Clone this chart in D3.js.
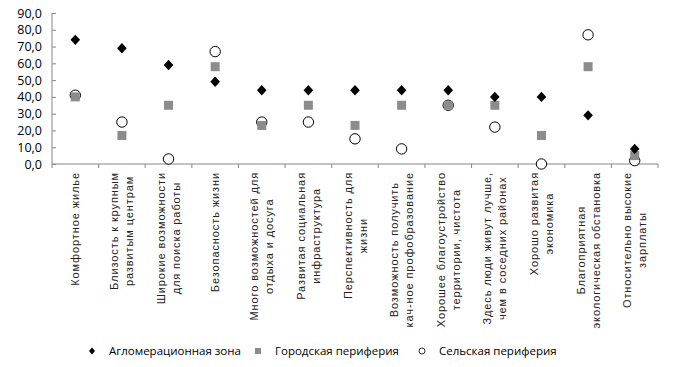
<!DOCTYPE html>
<html><head><meta charset="utf-8">
<script src="https://cdn.jsdelivr.net/npm/d3@7"></script>
<style>body{margin:0;background:#fff}svg{display:block}</style>
</head><body>
<svg id="c" width="675" height="367"></svg>
<script>
const categories = [
  ["Комфортное жилье"],
  ["Близость к крупным", "развитым центрам"],
  ["Широкие возможности", "для поиска работы"],
  ["Безопасность жизни"],
  ["Много возможностей для", "отдыха и досуга"],
  ["Развитая социальная", "инфраструктура"],
  ["Перспективность для", "жизни"],
  ["Возможность получить", "кач-ное профобразование"],
  ["Хорошее благоустройство", "территории, чистота"],
  ["Здесь люди живут лучше,", "чем в соседних районах"],
  ["Хорошо развитая", "экономика"],
  ["Благоприятная", "экологическая обстановка"],
  ["Относительно высокие", "зарплаты"]
];
const seriesNames = ["Агломерационная зона", "Городская периферия", "Сельская периферия"];
const agglo  = [74, 69, 59, 49, 44, 44, 44, 44, 44, 40, 40, 29, 9];
const urban  = [40, 17, 35, 58, 23, 35, 23, 35, 35, 35, 17, 58, 5];
const rural  = [41, 25, 3, 67, 25, 25, 15, 9, 35, 22, 0, 77, 2];
const yTicks = [0, 10, 20, 30, 40, 50, 60, 70, 80, 90];

const svg = d3.select("#c");
const L = 52, R = 658, T = 13, B = 164;
const x = d3.scaleBand().domain(d3.range(categories.length)).range([L, R]);
const y = d3.scaleLinear().domain([0, 90]).range([B, T]);
const fmt = v => d3.format(".1f")(v).replace(".", ",");
const axisColor = "#868686";
const diamond = (w, h) => `M0,${-h}L${w},0L0,${h}L${-w},0Z`;

// Y axis
const ya = svg.append("g").attr("transform", `translate(${L},0)`)
  .call(d3.axisLeft(y).tickValues(yTicks).tickSize(-4).tickPadding(10).tickFormat(fmt));
ya.select(".domain").attr("stroke", axisColor).attr("d", `M0,${T}V${B}`);
ya.selectAll(".tick line").attr("stroke", axisColor);
ya.selectAll(".tick text").attr("font-family", "Open Sans, sans-serif").attr("font-size", "12.5px").attr("fill", "#000");

// X axis
const xa = svg.append("g").attr("transform", `translate(0,${B})`);
xa.append("line").attr("x1", L).attr("x2", R).attr("stroke", axisColor);
xa.selectAll("line.t").data(d3.range(categories.length + 1)).join("line")
  .attr("x1", i => L + i * x.bandwidth()).attr("x2", i => L + i * x.bandwidth())
  .attr("y1", 0).attr("y2", 4).attr("stroke", axisColor);

// Category labels (rotated)
categories.forEach((lines, i) => {
  const cx = x(i) + x.bandwidth() / 2;
  const n = lines.length;
  const g = svg.append("g").attr("transform", `translate(${cx},${B + 8}) rotate(-90)`);
  const texts = lines.map((t, j) => g.append("text")
    .attr("x", 0).attr("y", (j - (n - 1) / 2) * 15 + 4)
    .attr("font-family", "Liberation Sans, Arial, sans-serif").attr("font-size", "11px")
    .attr("letter-spacing", "0.9px").attr("fill", "#222").text(t));
  const w = d3.max(texts.map(t => t.node().getComputedTextLength()));
  texts.forEach(t => t.attr("text-anchor", "middle").attr("x", -w / 2));
});

// Markers: rural (behind), urban, agglomeration (front)
const bw = x.bandwidth();
svg.append("g").selectAll("circle").data(rural).join("circle")
  .attr("cx", (d, i) => x(i) + bw / 2).attr("cy", d => y(d)).attr("r", 5.2)
  .attr("fill", "#fff").attr("stroke", "#000").attr("stroke-width", 1);
svg.append("g").selectAll("rect").data(urban).join("rect")
  .attr("x", (d, i) => x(i) + bw / 2 - 4.5).attr("y", d => y(d) - 4.5)
  .attr("width", 9).attr("height", 9).attr("fill", "#8c8c8c");
svg.append("g").selectAll("path").data(agglo).join("path")
  .attr("d", diamond(4.8, 5.2))
  .attr("transform", (d, i) => `translate(${x(i) + bw / 2},${y(d)})`)
  .attr("fill", "#000");

// Legend
const legX = [92, 258, 422];
const lg = svg.append("g");
seriesNames.forEach((s, i) => {
  const gx = legX[i], gy = 351;
  if (i === 0) lg.append("path").attr("d", diamond(3, 3.5)).attr("transform", `translate(${gx},${gy})`).attr("fill", "#000");
  if (i === 1) lg.append("rect").attr("x", gx - 3).attr("y", gy - 3).attr("width", 6).attr("height", 6).attr("fill", "#8c8c8c");
  if (i === 2) lg.append("circle").attr("cx", gx).attr("cy", gy).attr("r", 3).attr("fill", "#fff").attr("stroke", "#000").attr("stroke-width", 0.8);
  lg.append("text").attr("x", gx + 17).attr("y", gy + 4).attr("font-family", "Open Sans, sans-serif")
    .attr("font-size", "11.5px").attr("fill", "#000").text(s);
});
</script>
</body></html>
